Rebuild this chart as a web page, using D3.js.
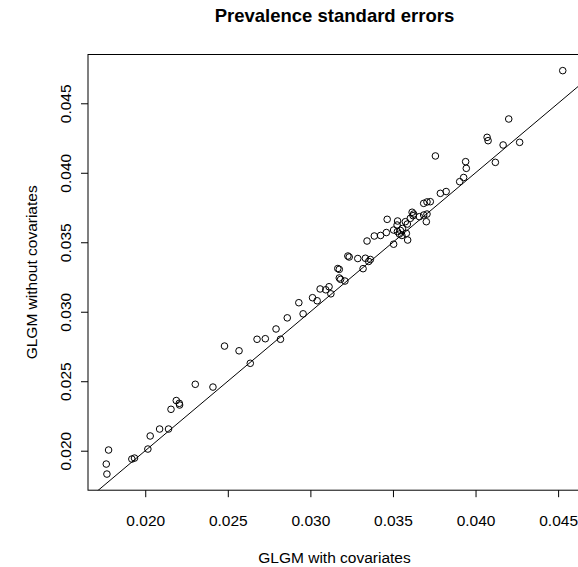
<!DOCTYPE html>
<html>
<head>
<meta charset="utf-8">
<script src="https://cdn.jsdelivr.net/npm/d3@7"></script>
<style>
  body { margin: 0; background: #fff; }
  text { font-family: "Liberation Sans", Arial, Helvetica, sans-serif; }
</style>
</head>
<body>
<div id="wrapper"></div>
<script>
// standard errors, GLGM with covariates (x) vs without covariates (y)
const withCov = [0.01768,0.01764,0.01778,0.01919,0.01935,0.02016,0.02030,0.02087,0.02141,0.02156,
  0.02188,0.02206,0.02208,0.02303,0.02410,0.02480,0.02568,0.02636,0.02677,0.02727,
  0.02792,0.02819,0.02860,0.02930,0.02956,0.03013,0.03041,0.03059,0.03093,0.03113,
  0.03124,0.03166,0.03175,0.03175,0.03183,0.03209,0.03227,0.03235,0.03287,0.03319,
  0.03333,0.03353,0.03363,0.03343,0.03387,0.03425,0.03460,0.03465,0.03504,0.03528,
  0.03525,0.03504,0.03527,0.03545,0.03557,0.03539,0.03554,0.03575,0.03587,0.03581,
  0.03589,0.03605,0.03616,0.03625,0.03622,0.03660,0.03686,0.03706,0.03702,0.03686,
  0.03706,0.03726,0.03787,0.03822,0.03757,0.03904,0.03928,0.03940,0.03944,0.04120,
  0.04167,0.04070,0.04076,0.04267,0.04201,0.04528]

const withoutCov = [0.01832,0.01904,0.02005,0.01940,0.01947,0.02012,0.02106,0.02156,0.02156,0.02298,
  0.02361,0.02341,0.02329,0.02478,0.02458,0.02753,0.02719,0.02629,0.02802,0.02806,
  0.02876,0.02802,0.02956,0.03065,0.02985,0.03101,0.03079,0.03164,0.03158,0.03180,
  0.03129,0.03311,0.03305,0.03243,0.03233,0.03221,0.03401,0.03394,0.03383,0.03310,
  0.03385,0.03362,0.03376,0.03509,0.03545,0.03549,0.03570,0.03665,0.03486,0.03653,
  0.03624,0.03588,0.03577,0.03585,0.03599,0.03559,0.03549,0.03648,0.03631,0.03564,
  0.03516,0.03672,0.03716,0.03703,0.03691,0.03684,0.03696,0.03703,0.03648,0.03780,
  0.03790,0.03792,0.03852,0.03865,0.04121,0.03936,0.03966,0.04080,0.04032,0.04075,
  0.04200,0.04255,0.04231,0.04219,0.04387,0.04735]

const xTicks = [0.020, 0.025, 0.030, 0.035, 0.040, 0.045]
const yTicks = [0.020, 0.025, 0.030, 0.035, 0.040, 0.045]

const titleText = 'Prevalence standard errors'
const xLabel = 'GLGM with covariates'
const yLabel = 'GLGM without covariates'

function drawScatter() {
  const dataset = withCov.map((x, i) => ({x: x, y: withoutCov[i]}))
  const xAccessor = d => d.x
  const yAccessor = d => d.y

  // plot region runs a little past the right edge of the picture
  let dimensions = {
    width: 578,
    height: 567,
    margins: {
      top: 54.5,
      right: -3,
      bottom: 76.8,
      left: 88
    }
  }
  dimensions.boundedWidth = dimensions.width - dimensions.margins.left - dimensions.margins.right
  dimensions.boundedHeight = dimensions.height - dimensions.margins.top - dimensions.margins.bottom

  const wrapper = d3.select('#wrapper').append('svg')
    .attr('width', dimensions.width)
    .attr('height', dimensions.height)

  const bounds = wrapper.append('g')
    .attr('transform', `translate(${dimensions.margins.left},${dimensions.margins.top})`)

  // R style range: data extent padded by 4%
  const pad = ext => {
    const r = ext[1] - ext[0]
    return [ext[0] - 0.04 * r, ext[1] + 0.04 * r]
  }

  const xScale = d3.scaleLinear()
    .domain(pad(d3.extent(dataset, xAccessor)))
    .range([0, dimensions.boundedWidth])

  const yScale = d3.scaleLinear()
    .domain(pad(d3.extent(dataset, yAccessor)))
    .range([dimensions.boundedHeight, 0])

  bounds.append('clipPath').attr('id', 'plotClip')
    .append('rect')
    .attr('width', dimensions.boundedWidth)
    .attr('height', dimensions.boundedHeight)

  // identity line y = x
  const xd = xScale.domain()
  bounds.append('line')
    .attr('clip-path', 'url(#plotClip)')
    .attr('x1', xScale(xd[0])).attr('y1', yScale(xd[0]))
    .attr('x2', xScale(xd[1])).attr('y2', yScale(xd[1]))
    .attr('stroke', '#000')
    .attr('stroke-width', 1)

  bounds.append('g').selectAll('circle')
    .data(dataset)
    .enter().append('circle')
    .attr('cx', d => xScale(xAccessor(d)))
    .attr('cy', d => yScale(yAccessor(d)))
    .attr('r', 3.3)
    .attr('fill', 'none')
    .attr('stroke', '#000')
    .attr('stroke-width', 1)

  // box
  bounds.append('rect')
    .attr('width', dimensions.boundedWidth)
    .attr('height', dimensions.boundedHeight)
    .attr('fill', 'none')
    .attr('stroke', '#000')
    .attr('stroke-width', 1)

  const fmt = d3.format('.3f')

  const xAxis = bounds.append('g')
    .attr('transform', `translate(0,${dimensions.boundedHeight})`)
    .call(d3.axisBottom(xScale).tickValues(xTicks).tickFormat(fmt).tickSize(7).tickSizeOuter(0))
  xAxis.select('.domain').remove()
  xAxis.selectAll('line').attr('stroke', '#000')
  xAxis.selectAll('text')
    .attr('y', 36)
    .attr('dy', null)
    .attr('fill', '#000')
    .style('font-size', '15.5px')
    .style('font-family', '"Liberation Sans", Arial, Helvetica, sans-serif')

  const yAxis = bounds.append('g')
    .call(d3.axisLeft(yScale).tickValues(yTicks).tickFormat(fmt).tickSize(7).tickSizeOuter(0))
  yAxis.select('.domain').remove()
  yAxis.selectAll('line').attr('stroke', '#000')
  yAxis.selectAll('text')
    .attr('transform', 'rotate(-90)')
    .attr('x', 0)
    .attr('y', -17)
    .attr('dy', null)
    .attr('text-anchor', 'middle')
    .attr('fill', '#000')
    .style('font-size', '15.5px')
    .style('font-family', '"Liberation Sans", Arial, Helvetica, sans-serif')

  const cx = dimensions.boundedWidth / 2

  wrapper.append('text')
    .attr('x', dimensions.margins.left + cx)
    .attr('y', 22)
    .attr('text-anchor', 'middle')
    .style('font-size', '18.5px')
    .style('font-weight', 'bold')
    .text(titleText)

  wrapper.append('text')
    .attr('x', dimensions.margins.left + cx)
    .attr('y', 563)
    .attr('text-anchor', 'middle')
    .style('font-size', '15.5px')
    .text(xLabel)

  wrapper.append('text')
    .attr('transform', `translate(37,${dimensions.margins.top + dimensions.boundedHeight / 2}) rotate(-90)`)
    .attr('text-anchor', 'middle')
    .style('font-size', '15.5px')
    .text(yLabel)
}
drawScatter()
</script>
</body>
</html>
